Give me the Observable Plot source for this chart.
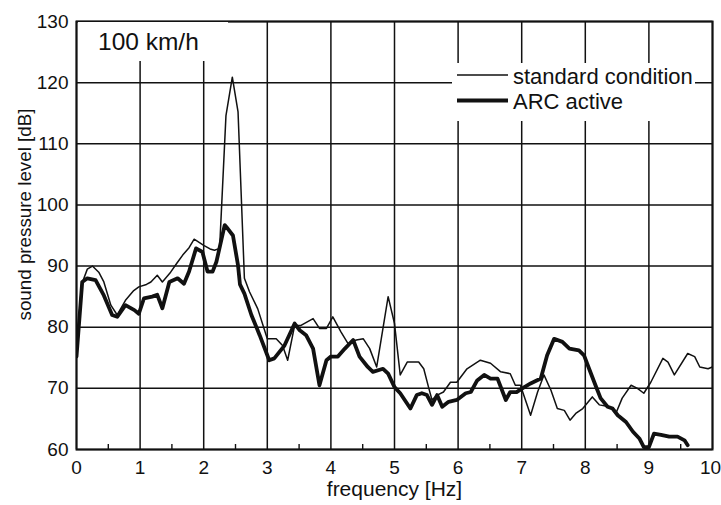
<!DOCTYPE html>
<html>
<head>
<meta charset="utf-8">
<script src="https://cdn.jsdelivr.net/npm/d3@7"></script>
<script src="https://cdn.jsdelivr.net/npm/@observablehq/plot@0.6"></script>
<style>
  html, body { margin: 0; padding: 0; background: #fff; }
  #wrap { position: relative; width: 721px; height: 505px; font-family: "Liberation Sans", Arial, Helvetica, sans-serif; color: #111; }
  .box { position: absolute; background: #fff; }
  .txt { position: absolute; white-space: nowrap; }
</style>
</head>
<body>
<div id="wrap">
  <div id="chart"></div>
</div>
<script>
// ---- data ----
const speedLabel = "100 km/h";
const seriesNames = ["standard condition", "ARC active"];
const xLabel = "frequency [Hz]";
const yLabel = "sound pressure level [dB]";
const xTicks = [0, 1, 2, 3, 4, 5, 6, 7, 8, 9, 10];
const xMinorTicks = [0.5, 1.5, 2.5, 3.5, 4.5, 5.5, 6.5, 7.5, 8.5, 9.5];
const yTicks = [60, 70, 80, 90, 100, 110, 120, 130];

// [frequency Hz, sound pressure level dB]
const standardCondition = [
  [0, 76], [0.08, 87], [0.17, 89.5], [0.25, 90], [0.35, 89], [0.43, 87.4], [0.54, 83.6], [0.64, 82],
  [0.77, 84.4], [0.9, 86], [0.98, 86.6], [1.1, 87], [1.17, 87.4], [1.27, 88.5], [1.35, 87.4], [1.48, 89],
  [1.58, 90.5], [1.67, 91.8], [1.77, 93], [1.85, 94.4], [2.0, 93.4], [2.1, 92.8], [2.17, 92.6], [2.25, 92.9],
  [2.35, 114.6], [2.45, 120.9], [2.54, 115.2], [2.64, 88], [2.72, 85.8], [2.85, 83], [3.0, 78.1], [3.14, 78.1],
  [3.24, 77], [3.32, 74.6], [3.43, 80.3], [3.53, 80.3], [3.72, 81.4], [3.82, 79.8], [3.93, 79.8], [4.03, 81.7],
  [4.16, 79.2], [4.27, 77.3], [4.4, 77.9], [4.51, 78.1], [4.61, 76.5], [4.72, 73.5], [4.9, 85], [5.0, 80.6],
  [5.09, 72.2], [5.2, 74.3], [5.38, 74.3], [5.46, 73.2], [5.54, 70], [5.59, 68.1], [5.67, 68.9], [5.77, 69.4],
  [5.88, 71], [5.98, 71], [6.14, 73.2], [6.35, 74.6], [6.51, 74.1], [6.67, 72.7], [6.82, 72.4], [6.9, 70.5],
  [6.98, 70.5], [7.14, 65.6], [7.25, 69.4], [7.35, 72.2], [7.46, 69.7], [7.56, 66.7], [7.67, 66.4], [7.76, 64.8],
  [7.85, 65.9], [7.96, 66.7], [8.11, 68.6], [8.22, 67.3], [8.38, 67], [8.48, 65.9], [8.58, 68.4], [8.72, 70.5],
  [8.82, 70], [8.92, 69.2], [9.03, 71], [9.22, 74.9], [9.3, 74.3], [9.4, 72.2], [9.61, 75.7], [9.72, 75.2],
  [9.8, 73.5], [9.93, 73.2], [10, 73.5]
];

const arcActive = [
  [0, 75.2], [0.09, 87.4], [0.17, 88], [0.3, 87.7], [0.43, 85.2], [0.56, 82], [0.64, 81.7], [0.77, 83.6],
  [0.91, 82.8], [0.98, 82.2], [1.06, 84.7], [1.19, 85], [1.27, 85.3], [1.35, 83.1], [1.46, 87.4], [1.59, 88],
  [1.69, 87.1], [1.77, 89.1], [1.88, 92.9], [1.98, 92.3], [2.06, 89.1], [2.14, 89.1], [2.2, 90.7], [2.33, 96.7],
  [2.38, 96.1], [2.46, 95], [2.54, 90.1], [2.57, 87], [2.64, 85.5], [2.75, 82], [2.88, 78.7], [3.03, 74.6],
  [3.11, 74.9], [3.27, 77], [3.43, 80.6], [3.51, 79.5], [3.61, 78.7], [3.72, 76.5], [3.82, 70.5], [3.93, 74.6],
  [4.0, 75.2], [4.11, 75.2], [4.22, 76.5], [4.35, 77.9], [4.45, 75.2], [4.58, 73.5], [4.66, 72.7], [4.82, 73.2],
  [4.9, 72.4], [5.0, 70.2], [5.09, 69.2], [5.25, 66.7], [5.35, 68.9], [5.43, 69.2], [5.51, 68.9], [5.59, 67.3],
  [5.67, 68.9], [5.75, 67], [5.85, 67.8], [5.98, 68.1], [6.12, 69.2], [6.2, 69.4], [6.3, 71.3], [6.41, 72.2],
  [6.51, 71.6], [6.62, 71.6], [6.75, 68.1], [6.82, 69.4], [6.92, 69.4], [7.01, 70], [7.14, 70.8], [7.3, 71.6],
  [7.4, 75.4], [7.51, 78.1], [7.64, 77.6], [7.75, 76.5], [7.9, 76.2], [7.98, 75.4], [8.06, 73.2], [8.16, 70.5],
  [8.24, 68.4], [8.35, 67], [8.43, 66.7], [8.51, 65.6], [8.64, 64.5], [8.75, 62.9], [8.85, 61.8], [8.92, 60.4],
  [9.0, 60.4], [9.08, 62.6], [9.19, 62.4], [9.32, 62.1], [9.45, 62.1], [9.56, 61.5], [9.61, 60.7]
];

const ink = "#111";
const font = "'Liberation Sans', Arial, Helvetica, sans-serif";

const chart = Plot.plot({
  width: 721,
  height: 505,
  marginLeft: 76,
  marginRight: 9,
  marginTop: 21,
  marginBottom: 56,
  x: { domain: [0, 10] },
  y: { domain: [60, 130] },
  style: { fontFamily: font, fontSize: "19px", color: ink, background: "#fff", overflow: "visible" },
  marks: [
    Plot.gridX(xTicks, { stroke: ink, strokeOpacity: 1, strokeWidth: 1.5 }),
    Plot.gridY(yTicks, { stroke: ink, strokeOpacity: 1, strokeWidth: 1.5 }),
    Plot.line(standardCondition, { x: d => d[0], y: d => d[1], stroke: ink, strokeWidth: 1.5, clip: true }),
    Plot.line(arcActive, { x: d => d[0], y: d => d[1], stroke: ink, strokeWidth: 3.8, strokeLinejoin: "round", clip: true }),
    Plot.frame({ stroke: ink, strokeWidth: 2 }),
    Plot.axisX(xTicks.slice(0, -1), { tickSize: 0, tickPadding: 11, fontSize: 19, label: null }),
    Plot.axisX(xTicks.slice(-1), { tickSize: 0, tickPadding: 11, fontSize: 19, label: null, dx: -2 }),
    Plot.axisX(xMinorTicks, { tickSize: -5, text: null, label: null, strokeWidth: 1.4 }),
    Plot.axisX([], { label: xLabel, labelAnchor: "center", labelArrow: "none", labelOffset: 46, fontSize: 21 }),
    Plot.axisY(yTicks, { tickSize: 0, tickPadding: 8, fontSize: 19, label: null }),
    Plot.text([yLabel], { text: d => d, frameAnchor: "left", textAnchor: "middle", rotate: -90, dx: -52, dy: -21, fontSize: 18.8, fill: ink })
  ]
});
document.getElementById("chart").appendChild(chart);

// ---- overlays: speed label and legend (white boxes masking the grid) ----
const wrap = document.getElementById("wrap");
function add(html) { wrap.insertAdjacentHTML("beforeend", html); }

add(`<div class="box" style="left:78px;top:22px;width:150px;height:39px"></div>`);
add(`<div class="txt" style="left:98px;top:30px;font-size:24.5px;line-height:24px">${speedLabel}</div>`);

add(`<div class="box" style="left:452px;top:63px;width:243px;height:58px"></div>`);
add(`<svg style="position:absolute;left:0;top:0" width="721" height="505">
  <line x1="457" x2="508" y1="75" y2="75" stroke="${ink}" stroke-width="1.5"/>
  <line x1="457" x2="508" y1="100.5" y2="100.5" stroke="${ink}" stroke-width="3.8"/>
</svg>`);
add(`<div class="txt" style="left:513px;top:66px;font-size:22px;line-height:22px">${seriesNames[0]}</div>`);
add(`<div class="txt" style="left:513px;top:91px;font-size:22px;line-height:22px">${seriesNames[1]}</div>`);
</script>
</body>
</html>
